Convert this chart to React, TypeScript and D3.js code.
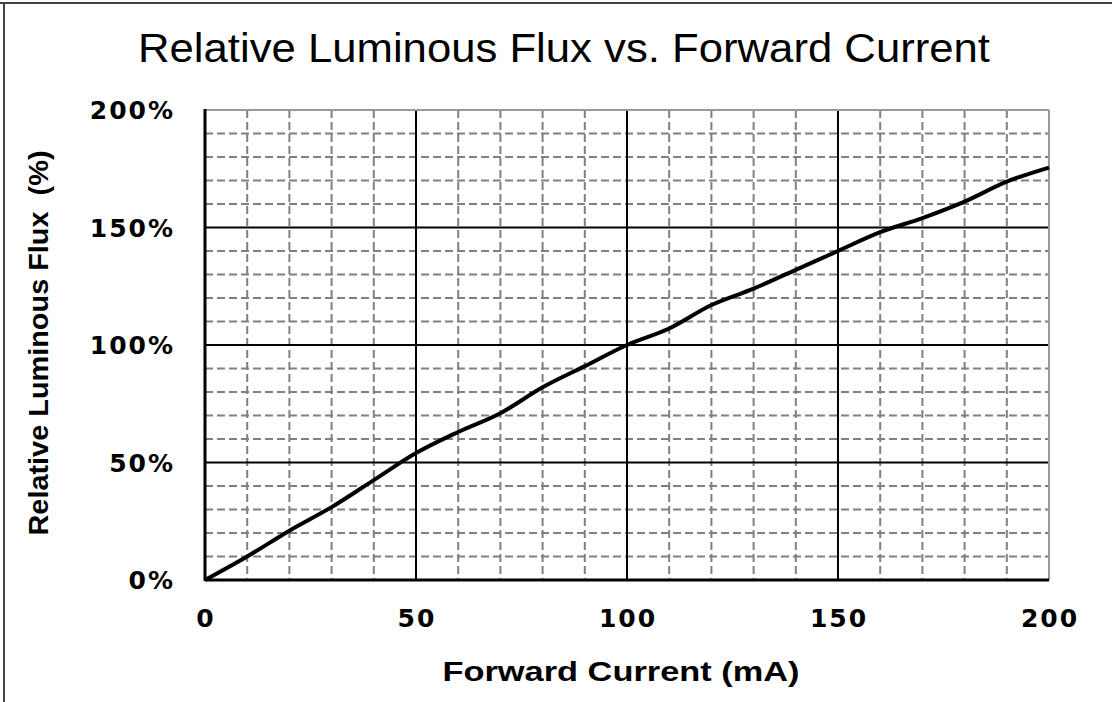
import React from 'react';
import * as d3 from 'd3';

// forward current (mA) vs relative luminous flux (%)
const currents = [0, 10, 20, 30, 40, 50, 60, 70, 80, 90, 100, 110, 120, 130, 140, 150, 160, 170, 180, 190, 200];
const flux = [0, 10, 21, 31, 42.5, 54, 63, 71, 82, 91, 100, 107, 117, 124, 132, 140, 148, 154, 161, 169.5, 175.5];

const xTicks = [0, 50, 100, 150, 200];
const yTicks = [0, 50, 100, 150, 200];
const yTickLabels = ['0%', '50%', '100%', '150%', '200%'];

const title = 'Relative Luminous Flux vs. Forward Current';
const xTitle = 'Forward Current (mA)';
const yTitle = 'Relative Luminous Flux  (%)';

const W = 1112;
const H = 702;

const App = () => {
  const x = d3.scaleLinear().domain([0, 200]).range([205, 1049]);
  const y = d3.scaleLinear().domain([0, 200]).range([580, 110]);

  const xMinor = x.ticks(20).filter(t => !xTicks.includes(t));
  const yMinor = y.ticks(20).filter(t => !yTicks.includes(t));
  const xMajor = xTicks.filter(t => t > 0 && t < 200);
  const yMajor = yTicks.filter(t => t > 0 && t < 200);

  const pts = currents.map((c, i) => [c, flux[i]] as [number, number]);
  const line = d3.line<[number, number]>()
    .x(d => x(d[0]))
    .y(d => y(d[1]))
    .curve(d3.curveMonotoneX);

  const [x0, x1] = x.range();
  const [y0, y1] = y.range();

  return (
    <svg width={W} height={H} style={{ position: 'absolute', left: 0, top: 0, background: '#fff' }}>
      {/* outer frame (top and left only) */}
      <line x1={0} x2={W} y1={3} y2={3} stroke="#444" strokeWidth={2} />
      <line x1={4} x2={4} y1={3} y2={H} stroke="#444" strokeWidth={2} />

      <text x={564} y={62} fontFamily="'Liberation Sans Narrow', 'Liberation Sans', Arial, sans-serif"
        fontSize={40} textAnchor="middle" textLength={852} lengthAdjust="spacingAndGlyphs">{title}</text>

      {/* minor grid */}
      {xMinor.map(t => (
        <line key={'xm' + t} x1={x(t)} x2={x(t)} y1={y1} y2={y0} stroke="#808080" strokeWidth={2} strokeDasharray="8,4" />
      ))}
      {yMinor.map(t => (
        <line key={'ym' + t} x1={x0} x2={x1} y1={y(t)} y2={y(t)} stroke="#808080" strokeWidth={2} strokeDasharray="8,4" />
      ))}

      {/* major grid */}
      {xMajor.map(t => (
        <line key={'xM' + t} x1={x(t)} x2={x(t)} y1={y1} y2={y0} stroke="#000" strokeWidth={2} />
      ))}
      {yMajor.map(t => (
        <line key={'yM' + t} x1={x0} x2={x1} y1={y(t)} y2={y(t)} stroke="#000" strokeWidth={2} />
      ))}

      {/* plot border */}
      <line x1={x0} x2={x1} y1={y1} y2={y1} stroke="#999" strokeWidth={2} />
      <line x1={x1} x2={x1} y1={y1} y2={y0} stroke="#999" strokeWidth={2} />
      <line x1={x0} x2={x0} y1={y1 - 1} y2={y0 + 1} stroke="#000" strokeWidth={3} />
      <line x1={x0} x2={x1} y1={y0} y2={y0} stroke="#000" strokeWidth={3} />

      <path d={line(pts) || ''} fill="none" stroke="#000" strokeWidth={4} strokeLinejoin="round" />

      {/* tick labels */}
      {xTicks.map(t => (
        <text key={'xl' + t} x={x(t) + 1} y={627} textAnchor="middle" fontFamily="'DejaVu Sans', sans-serif"
          fontWeight="bold" fontSize={25} letterSpacing={2}>{t}</text>
      ))}
      {yTicks.map((t, i) => (
        <text key={'yl' + t} x={175} y={y(t) + 9} textAnchor="end" fontFamily="'DejaVu Sans', sans-serif"
          fontWeight="bold" fontSize={25} letterSpacing={2}>{yTickLabels[i]}</text>
      ))}

      <text x={621} y={681} textAnchor="middle" fontFamily="'Liberation Sans', Arial, sans-serif" fontWeight="bold"
        fontSize={27} textLength={357} lengthAdjust="spacingAndGlyphs">{xTitle}</text>
      <text transform="translate(48,343) rotate(-90)" textAnchor="middle" fontFamily="'Liberation Sans', Arial, sans-serif"
        fontWeight="bold" fontSize={27} textLength={385} lengthAdjust="spacingAndGlyphs"
        style={{ whiteSpace: 'pre' }}>{yTitle}</text>
    </svg>
  );
};

export default App;
